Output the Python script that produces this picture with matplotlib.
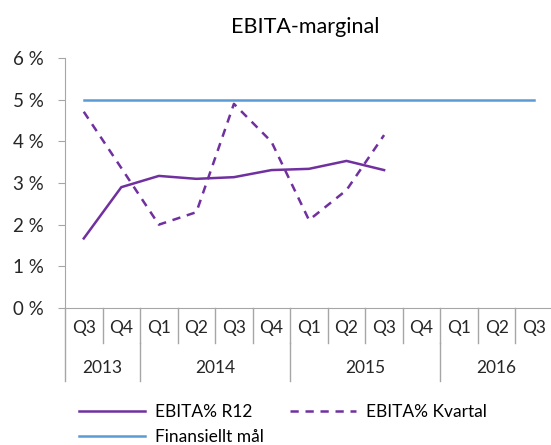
import matplotlib.pyplot as plt
from matplotlib.lines import Line2D

plt.rcParams['font.family'] = ['Lato', 'DejaVu Sans']

quarters = ["Q3", "Q4", "Q1", "Q2", "Q3", "Q4", "Q1", "Q2", "Q3", "Q4", "Q1", "Q2", "Q3"]
years = ["2013", "2014", "2015", "2016"]
year_counts = [2, 4, 4, 3]

r12 = [1.67, 2.90, 3.17, 3.10, 3.14, 3.31, 3.34, 3.53, 3.31]
kvartal = [4.71, 3.36, 2.00, 2.30, 4.90, 3.99, 2.11, 2.83, 4.15]
mal = [5.0] * len(quarters)

purple = "#7030A0"
blue = "#5B9BD5"
grey = "#A6A6A6"

fig = plt.figure(figsize=(5.51, 4.45), dpi=100)
ax = fig.add_axes([65 / 551, 1 - 308 / 445, 488 / 551, 250 / 445])

l1, = ax.plot(range(len(r12)), r12, color=purple, lw=1.8, label="EBITA% R12")
l2, = ax.plot(range(len(kvartal)), kvartal, color=purple, lw=1.8, ls=(0, (3.3, 2.7)),
              label="EBITA% Kvartal")
l3, = ax.plot(range(len(mal)), mal, color=blue, lw=1.8, label="Finansiellt mål")

ax.set_xlim(-0.5, len(quarters) - 0.5)
ax.set_ylim(0, 6)
ax.set_yticks(range(7))
ax.set_yticklabels([f"{v} %" for v in range(7)], fontsize=13.5, color="#262626")
ax.tick_params(axis='y', length=5, color=grey, pad=10)
ax.set_xticks([])
for s in ["top", "right"]:
    ax.spines[s].set_visible(False)
ax.spines["left"].set_color(grey)
ax.spines["bottom"].set_color(grey)

# two-level category axis
tr = ax.get_xaxis_transform()
for i, q in enumerate(quarters):
    ax.text(i, -0.08, q, transform=tr, ha="center", va="center", fontsize=12.5, color="#262626")
    if i > 0:
        ax.add_line(Line2D([i - 0.5, i - 0.5], [0, -0.14], transform=tr, color=grey,
                           lw=1, clip_on=False))
start = 0
for y, n in zip(years, year_counts):
    ax.text(start + (n - 1) / 2, -0.24, y, transform=tr, ha="center", va="center",
            fontsize=12.5, color="#262626")
    if start > 0:
        ax.add_line(Line2D([start - 0.5, start - 0.5], [-0.14, -0.29], transform=tr,
                           color=grey, lw=1, clip_on=False))
    start += n
ax.add_line(Line2D([-0.5, -0.5], [0, -0.29], transform=tr, color=grey, lw=1, clip_on=False))

fig.text(0.553, 1 - 27 / 445, "EBITA-marginal", ha="center", va="center", fontsize=15.5,
         color="black")

fig.legend(handles=[l1, l3, l2], ncol=2, loc="lower left",
           bbox_to_anchor=(63 / 551, -16 / 445),
           frameon=False, fontsize=12.5, handlelength=3.8, columnspacing=1.5,
           labelspacing=0.55, handletextpad=0.6)

fig.savefig("out.png", dpi=100)
